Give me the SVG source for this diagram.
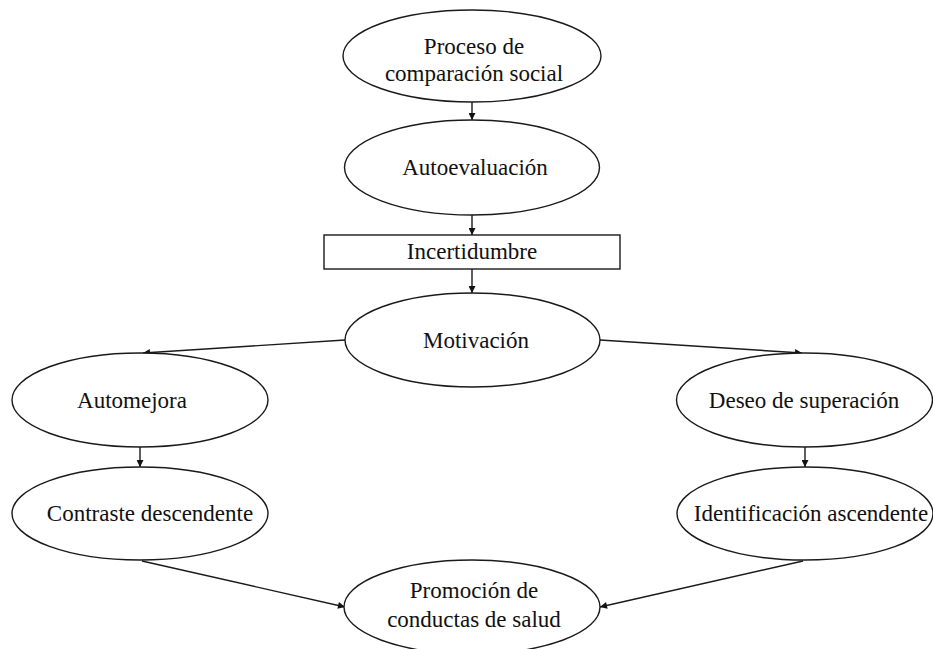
<svg xmlns="http://www.w3.org/2000/svg" width="933" height="649" viewBox="0 0 933 649">
<style>
.n{fill:#fff;stroke:#1a1a1a;stroke-width:1.4}
.t{font-family:"Liberation Serif","Times New Roman",serif;font-size:23px;fill:#111;text-anchor:middle}
.c{fill:none;stroke:#1a1a1a;stroke-width:1.4;marker-end:url(#ah)}
</style>
<defs>
<marker id="ah" viewBox="0 0 10 10" refX="10" refY="5" markerWidth="8" markerHeight="7" markerUnits="userSpaceOnUse" orient="auto">
<path d="M0,0 L10,5 L0,10 z" fill="#111"/>
</marker>
</defs>
<rect width="933" height="649" fill="#fff"/>
<g id="connectors">
<line class="c" x1="472" y1="102" x2="472" y2="120"/>
<line class="c" x1="472" y1="215" x2="472" y2="235"/>
<line class="c" x1="472" y1="269" x2="472" y2="293"/>
<line class="c" x1="345" y1="340" x2="143" y2="353"/>
<line class="c" x1="600" y1="340" x2="802" y2="353"/>
<line class="c" x1="140" y1="447" x2="140" y2="467"/>
<line class="c" x1="805" y1="447" x2="805" y2="467"/>
<line class="c" x1="142" y1="561" x2="345" y2="607"/>
<line class="c" x1="803" y1="561" x2="600" y2="607"/>
</g>
<g id="n1">
<ellipse class="n" cx="472" cy="56" rx="129" ry="46"/>
<text class="t" x="474" y="54">Proceso de</text>
<text class="t" x="474" y="81">comparación social</text>
</g>
<g id="n2">
<ellipse class="n" cx="472" cy="167.5" rx="127.5" ry="47.5"/>
<text class="t" x="475" y="175">Autoevaluación</text>
</g>
<g id="n3">
<rect class="n" x="324" y="235" width="296" height="34"/>
<text class="t" x="472" y="259">Incertidumbre</text>
</g>
<g id="n4">
<ellipse class="n" cx="472.5" cy="340" rx="127.5" ry="47"/>
<text class="t" x="476" y="348">Motivación</text>
</g>
<g id="n5">
<ellipse class="n" cx="140" cy="400" rx="128" ry="47"/>
<text class="t" x="132" y="408">Automejora</text>
</g>
<g id="n6">
<ellipse class="n" cx="804.5" cy="400" rx="128" ry="47"/>
<text class="t" x="804" y="408">Deseo de superación</text>
</g>
<g id="n7">
<ellipse class="n" cx="140" cy="513.5" rx="128" ry="46.5"/>
<text class="t" x="150" y="521">Contraste descendente</text>
</g>
<g id="n8">
<ellipse class="n" cx="805" cy="513.5" rx="128" ry="46.5"/>
<text class="t" x="811" y="521">Identificación ascendente</text>
</g>
<g id="n9">
<ellipse class="n" cx="472" cy="607" rx="128" ry="47"/>
<text class="t" x="474" y="598">Promoción de</text>
<text class="t" x="474" y="627">conductas de salud</text>
</g>
</svg>
